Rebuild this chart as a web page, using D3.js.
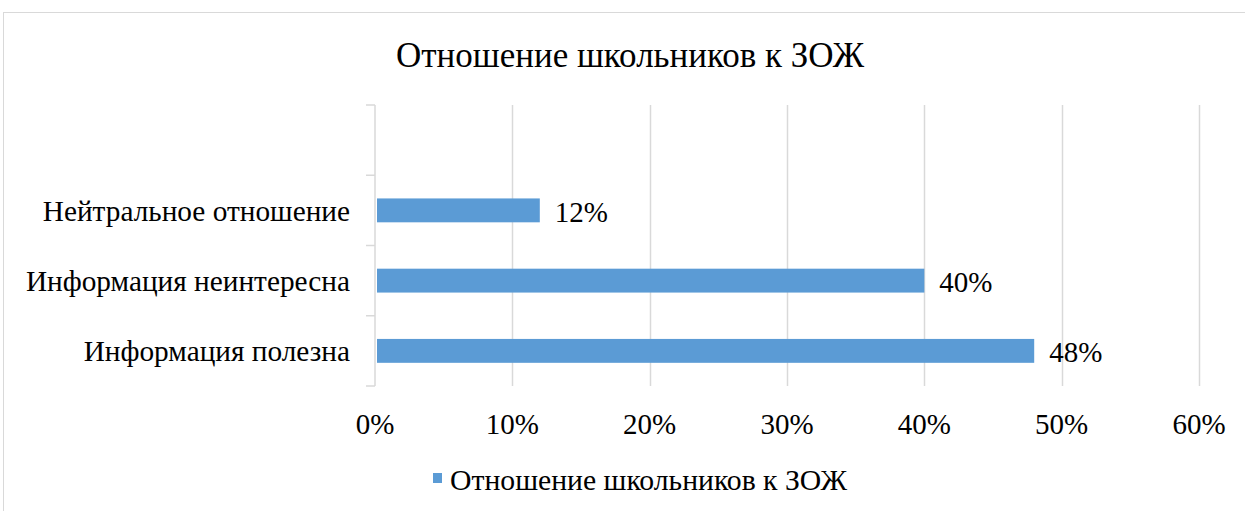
<!DOCTYPE html>
<html>
<head>
<meta charset="utf-8">
<script src="https://cdn.jsdelivr.net/npm/d3@7"></script>
<style>
  body { margin: 0; background: #fff; }
</style>
</head>
<body>
<script>
// data
let categories = ["", "Нейтральное отношение", "Информация неинтересна", "Информация полезна"];
let values = [null, 0.12, 0.40, 0.48];
let xTicks = [0, 0.1, 0.2, 0.3, 0.4, 0.5, 0.6];
let seriesName = "Отношение школьников к ЗОЖ";
let chartTitle = "Отношение школьников к ЗОЖ";

let margin = null, width = null, height = null;
let svg = null, root = null;
let x, y = null;
const FONT = '"Liberation Serif"';

main();

function main() {
  setupCanvasSize();
  appendSvg("body");
  drawFrame();
  setupXScale();
  setupYScale();
  appendGrid();
  appendYAxis();
  appendBars();
  appendXLabels();
  addTitle();
  addLegend();
}

function setupCanvasSize() {
  margin = { top: 105, left: 375, bottom: 125, right: 46 };
  width = 1245 - margin.left - margin.right;
  height = 511 - margin.top - margin.bottom;
}

function appendSvg(domElement) {
  root = d3.select(domElement).append("svg")
    .attr("width", 1245)
    .attr("height", 511);
  svg = root.append("g")
    .attr("transform", `translate(${margin.left}, ${margin.top})`);
}

function drawFrame() {
  root.append("rect")
    .attr("x", 3.5).attr("y", 12.5)
    .attr("width", 1245).attr("height", 520)
    .attr("fill", "none")
    .attr("stroke", "#d9d9d9");
}

function setupXScale() {
  x = d3.scaleLinear()
    .range([0, width])
    .domain([0, 0.6]);
}

function setupYScale() {
  y = d3.scaleBand()
    .range([0, height])
    .domain(categories.map((d, i) => i))
    .paddingInner(0.66)
    .paddingOuter(0.33);
}

function appendGrid() {
  svg.append("g")
    .selectAll("line")
    .data(xTicks.slice(1))
    .enter()
    .append("line")
    .attr("x1", d => Math.round(x(d)) + 0.5)
    .attr("x2", d => Math.round(x(d)) + 0.5)
    .attr("y1", 0)
    .attr("y2", height)
    .attr("stroke", "#d9d9d9")
    .attr("stroke-width", 1.5);
}

function appendYAxis() {
  let step = height / categories.length;
  let g = svg.append("g");
  g.append("line")
    .attr("x1", 0).attr("x2", 0)
    .attr("y1", 0).attr("y2", height)
    .attr("stroke", "#d9d9d9").attr("stroke-width", 1.5);
  g.selectAll("line.tick")
    .data(d3.range(categories.length + 1))
    .enter()
    .append("line")
    .attr("class", "tick")
    .attr("x1", -9).attr("x2", 0)
    .attr("y1", d => d * step).attr("y2", d => d * step)
    .attr("stroke", "#d9d9d9").attr("stroke-width", 1.5);
  g.selectAll("text")
    .data(categories)
    .enter()
    .append("text")
    .attr("x", -25)
    .attr("y", (d, i) => y(i) + y.bandwidth() / 2)
    .attr("dy", "0.35em")
    .attr("text-anchor", "end")
    .style("font-family", FONT)
    .style("font-size", "29.3px")
    .text(d => d);
}

function appendBars() {
  let data = values.map((v, i) => ({ i: i, v: v })).filter(d => d.v != null);
  svg.selectAll("rect.bar")
    .data(data)
    .enter()
    .append("rect")
    .attr("class", "bar")
    .attr("x", 2)
    .attr("y", d => y(d.i))
    .attr("width", d => x(d.v) - 2)
    .attr("height", y.bandwidth())
    .attr("fill", "#5b9bd5");
  svg.selectAll("text.value")
    .data(data)
    .enter()
    .append("text")
    .attr("class", "value")
    .attr("x", d => x(d.v) + 15)
    .attr("y", d => y(d.i) + y.bandwidth() / 2 + 1)
    .attr("dy", "0.35em")
    .style("font-family", FONT)
    .style("font-size", "29px")
    .text(d => d3.format(".0%")(d.v));
}

function appendXLabels() {
  svg.append("g")
    .selectAll("text")
    .data(xTicks)
    .enter()
    .append("text")
    .attr("x", d => x(d))
    .attr("y", height + 38)
    .attr("dy", "0.35em")
    .attr("text-anchor", "middle")
    .style("font-family", FONT)
    .style("font-size", "29px")
    .text(d => d3.format(".0%")(d));
}

function addTitle() {
  root.append("text")
    .attr("x", 630)
    .attr("y", 55)
    .attr("dy", "0.35em")
    .attr("text-anchor", "middle")
    .style("font-family", FONT)
    .style("font-size", "35px")
    .text(chartTitle);
}

function addLegend() {
  root.append("rect")
    .attr("x", 433).attr("y", 473)
    .attr("width", 9).attr("height", 10)
    .attr("fill", "#5b9bd5");
  root.append("text")
    .attr("x", 450).attr("y", 480)
    .attr("dy", "0.35em")
    .style("font-family", FONT)
    .style("font-size", "29.7px")
    .text(seriesName);
}
</script>
</body>
</html>
